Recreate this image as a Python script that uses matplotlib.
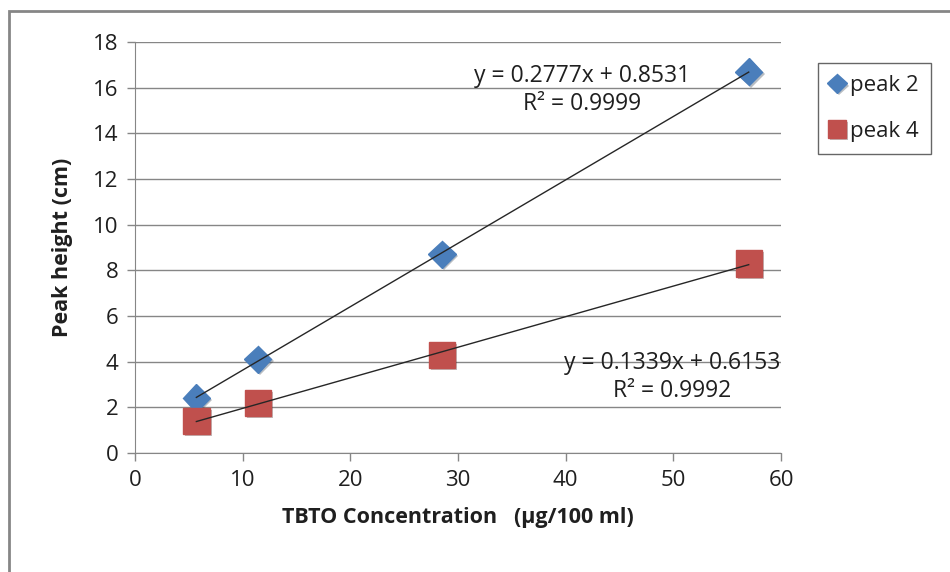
import numpy as np
import matplotlib.pyplot as plt
import matplotlib.patheffects as pe
from matplotlib.patches import Rectangle

# TBTO concentration (ug/100 ml) and measured peak heights (cm)
conc = [5.7, 11.4, 28.5, 57.0]
peak2 = [2.4, 4.1, 8.7, 16.7]
peak4 = [1.4, 2.2, 4.3, 8.3]

# linear fits: slope, intercept, R^2
fit2 = (0.2777, 0.8531, 0.9999)
fit4 = (0.1339, 0.6153, 0.9992)

plt.rcParams['font.family'] = ['Open Sans', 'DejaVu Sans']

W, H = 950, 572
fig = plt.figure(figsize=(W / 100, H / 100), dpi=100)
fig.patch.set_facecolor('white')
# outer chart frame
fig.patches.append(Rectangle((9 / W, -0.1), 1.2, 1 - 11 / H + 0.1,
                             transform=fig.transFigure, fill=False,
                             edgecolor='#868686', linewidth=2))

ax = fig.add_axes([135 / W, 1 - 453 / H, 646 / W, 411 / H])

shadow = [pe.SimplePatchShadow(offset=(1.5, -1.5), alpha=0.3), pe.Normal()]

xs = np.array([conc[0], conc[-1]])
ax.plot(xs, fit2[0] * xs + fit2[1], color='#262626', lw=1, zorder=3)
ax.plot(xs, fit4[0] * xs + fit4[1], color='#262626', lw=1, zorder=3)

ax.plot(conc, peak2, ls='none', marker='D', ms=14, color='#4A7EBB',
        mec='#4A7EBB', label='peak 2', zorder=2, path_effects=shadow)
ax.plot(conc, peak4, ls='none', marker='s', ms=19, color='#C0504D',
        mec='#C0504D', label='peak 4', zorder=2, path_effects=shadow)

txt = '#1f1f1f'
fig.text(582 / W, 1 - 90 / H, f'y = {fit2[0]}x + {fit2[1]}\nR² = {fit2[2]}',
         ha='center', va='center', fontsize=16.5, color=txt,
         linespacing=1.2)
fig.text(672 / W, 1 - 377 / H, f'y = {fit4[0]}x + {fit4[1]}\nR² = {fit4[2]}',
         ha='center', va='center', fontsize=16.5, color=txt,
         linespacing=1.2)

ax.set_xlim(0, 60)
ax.set_ylim(0, 18)
ax.set_xticks(range(0, 61, 10))
ax.set_yticks(range(0, 19, 2))
ax.yaxis.grid(True, color='#868686', lw=1)
ax.set_axisbelow(True)
for s in ('top', 'right'):
    ax.spines[s].set_visible(False)
for s in ('left', 'bottom'):
    ax.spines[s].set_color('#868686')
ax.tick_params(colors='#868686', labelcolor=txt, labelsize=16,
               length=6, width=1)
ax.tick_params(axis='y', pad=6)
ax.tick_params(axis='x', pad=6)

ax.set_xlabel('TBTO Concentration   (µg/100 ml)', fontsize=15.5,
              fontweight='bold', labelpad=12, color=txt)
ax.set_ylabel('Peak height (cm)', fontsize=15.5, fontweight='bold',
              labelpad=14, color=txt)

leg = ax.legend(loc='upper left', bbox_to_anchor=(818 / W, 1 - 63 / H),
                bbox_transform=fig.transFigure, fontsize=16, frameon=True,
                fancybox=False, edgecolor='#404040', handlelength=0.6,
                handletextpad=0.3, borderpad=0.55, labelspacing=1.1,
                borderaxespad=0, markerscale=0.7)
leg.get_frame().set_linewidth(1)
for t in leg.get_texts():
    t.set_color(txt)

fig.savefig('out.png', dpi=100, facecolor='white')
